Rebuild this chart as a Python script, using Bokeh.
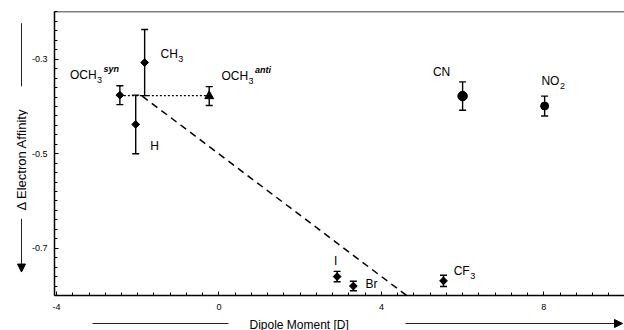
import numpy as np
from bokeh.plotting import figure
from bokeh.layouts import row, column
from bokeh.models import (ColumnDataSource, Range1d, FixedTicker, Whisker, TeeHead,
                          Arrow, NormalHead, Span)
from bokeh.core.properties import value
from bokeh.embed import file_html
from bokeh.resources import INLINE

# ---------------- data ----------------
substituent = ["OCH3 syn", "CH3", "H", "OCH3 anti", "I", "Br", "CF3", "CN", "NO2"]
dipole = [-2.44, -1.83, -2.05, -0.24, 2.91, 3.31, 5.53, 6.00, 8.02]
delta_ea = [-0.376, -0.307, -0.438, -0.378, -0.760, -0.780, -0.769, -0.378, -0.399]
ea_err = [0.020, 0.070, 0.062, 0.020, 0.011, 0.010, 0.012, 0.030, 0.021]

label_main = ["OCH", "CH", "H", "OCH", "I", "Br", "CF", "CN", "NO"]
label_sub = ["3", "3", "", "3", "", "", "3", "", "2"]
label_sup = ["syn", "", "", "anti", "", "", "", "", ""]
label_x = [-3.67, -1.44, -1.69, 0.06, 2.83, 3.61, 5.78, 5.27, 7.94]
label_y = [-0.334, -0.289, -0.483, -0.335, -0.727, -0.775, -0.748, -0.328, -0.347]

# syn/anti connector and linear trend
connector_x = [-2.44, -0.24]
connector_y = [-0.377, -0.377]
trend_x = [-1.89, 4.62]
trend_y = [-0.378, -0.800]

x_ticks = [-4, 0, 4, 8]
x_tick_labels = ["-4", "0", "4", "8"]
y_ticks = [-0.7, -0.5, -0.3]
y_tick_labels = ["-0.7", "-0.5", "-0.3"]

x_title = "Dipole Moment [D]"
y_title = "\u0394 Electron Affinity"

diamond_idx = [0, 1, 2, 4, 5, 6]
triangle_idx = [3]
circle_idx = [7, 8]

FONT = "Liberation Sans"
W, H = 624, 330
LEFT_W = 28      # strip holding the y title
BOTTOM_H = 15    # strip holding the x title
MAIN_W, MAIN_H = W - LEFT_W, H - BOTTOM_H

# ---------------- main figure ----------------
p = figure(width=MAIN_W, height=MAIN_H, output_backend="svg", toolbar_location=None,
           x_range=Range1d(-4.05, 9.987), y_range=Range1d(-0.800, -0.199),
           min_border_left=24, min_border_right=0, min_border_top=11, min_border_bottom=20)
p.outline_line_color = None
p.xgrid.visible = False
p.ygrid.visible = False
p.background_fill_color = "white"
p.border_fill_color = "white"

for ax in (p.xaxis[0], p.yaxis[0]):
    ax.axis_line_width = 1.5
    ax.axis_line_color = "black"
    ax.major_tick_in = 4
    ax.major_tick_out = 0
    ax.minor_tick_in = 3
    ax.minor_tick_out = 0
    ax.major_tick_line_color = "black"
    ax.minor_tick_line_color = "black"
    ax.major_label_text_font = FONT
    ax.major_label_text_font_size = "9px"
    ax.major_label_text_color = "black"
p.xaxis[0].major_label_standoff = 8
p.yaxis[0].major_label_standoff = 7

p.xaxis[0].ticker = FixedTicker(ticks=x_ticks, minor_ticks=list(np.arange(-4.0, 10.0, 0.4)))
p.xaxis[0].major_label_overrides = dict(zip(x_ticks, x_tick_labels))
p.yaxis[0].ticker = FixedTicker(ticks=y_ticks, minor_ticks=list(np.arange(-0.80, -0.19, 0.02)))
p.yaxis[0].major_label_overrides = dict(zip(y_ticks, y_tick_labels))

# top border
p.add_layout(Span(location=-0.199, dimension="width", line_color="black", line_width=1.5))

# connector and trend lines
p.line(connector_x, connector_y, line_color="black", line_width=1.3, line_dash="2 2")
p.line(trend_x, trend_y, line_color="black", line_width=1.5, line_dash="7 5")

# error bars
src = ColumnDataSource(dict(
    x=dipole, y=delta_ea,
    upper=[v + e for v, e in zip(delta_ea, ea_err)],
    lower=[v - e for v, e in zip(delta_ea, ea_err)],
))
p.add_layout(Whisker(source=src, base="x", upper="upper", lower="lower",
                     line_color="black", line_width=1.4,
                     upper_head=TeeHead(size=7, line_color="black", line_width=1.4),
                     lower_head=TeeHead(size=7, line_color="black", line_width=1.4)))

def pick(idx, arr):
    return [arr[i] for i in idx]

p.scatter(pick(diamond_idx, dipole), pick(diamond_idx, delta_ea), marker="square",
          angle=np.pi / 4, size=5.5, color="black")
p.scatter(pick(triangle_idx, dipole), pick(triangle_idx, delta_ea), marker="triangle",
          size=9, color="black")
p.scatter(pick(circle_idx, dipole), pick(circle_idx, delta_ea), marker="circle",
          size=[9.5, 8], color="black")

# point labels (main text + subscript + superscript)
cw = {"O": 0.778, "C": 0.722, "H": 0.722, "N": 0.722, "F": 0.611, "I": 0.278,
      "B": 0.667, "r": 0.333, "3": 0.556, "2": 0.556}
def width(s, fs):
    return sum(cw.get(c, 0.55) for c in s) * fs

main_fs, small_fs = 12, 9
sub_dx = [width(m, main_fs) + 0.5 for m in label_main]
sup_dx = [width(m, main_fs) + width(s, small_fs) + 2 for m, s in zip(label_main, label_sub)]

p.text(label_x, label_y, text=label_main, text_font=value(FONT), text_font_size="12px",
       text_align="left", text_baseline="middle", text_color="black")
p.text(label_x, label_y, text=label_sub, x_offset=sub_dx, y_offset=5,
       text_font=value(FONT), text_font_size="9px",
       text_align="left", text_baseline="middle", text_color="black")
p.text(label_x, label_y, text=label_sup, x_offset=sup_dx, y_offset=-6,
       text_font=value(FONT), text_font_size="9px", text_font_style="bold italic",
       text_align="left", text_baseline="middle", text_color="black")

# ---------------- strips for the arrowed axis titles ----------------
def strip(w, h):
    s = figure(width=w, height=h, output_backend="svg", toolbar_location=None,
               x_range=Range1d(0, w), y_range=Range1d(0, h),
               x_axis_location=None, y_axis_location=None,
               min_border=0, min_border_left=0, min_border_right=0,
               min_border_top=0, min_border_bottom=0)
    s.outline_line_color = None
    s.xgrid.visible = False
    s.ygrid.visible = False
    s.background_fill_color = "white"
    s.border_fill_color = "white"
    return s

# left strip: pixel coordinates, y measured from the strip bottom
ls = strip(LEFT_W, MAIN_H)
ls.text([21], [MAIN_H - 164], text=[y_title], angle=np.pi / 2,
        text_font=value(FONT), text_font_size="13px",
        text_align="center", text_baseline="middle", text_color="black")
ls.line([21, 21], [MAIN_H - 13, MAIN_H - 83], line_color="#222222", line_width=1)
ls.add_layout(Arrow(x_start=21, y_start=MAIN_H - 230, x_end=21, y_end=MAIN_H - 289,
                    start=None, end=NormalHead(size=8, fill_color="black", line_color="black"),
                    line_color="#222222", line_width=1))

# bottom strip
bs = strip(W, BOTTOM_H)
bs.text([249], [6], text=[x_title], text_font=value(FONT), text_font_size="12px",
        text_align="left", text_baseline="middle", text_color="black")
bs.line([92, 228], [7, 7], line_color="#222222", line_width=1)
bs.add_layout(Arrow(x_start=405, y_start=7, x_end=622, y_end=7,
                    start=None, end=NormalHead(size=8, fill_color="black", line_color="black"),
                    line_color="#222222", line_width=1))

layout = column(row(ls, p, spacing=0), bs, spacing=0)

open("out.html", "w").write(file_html(layout, INLINE))
